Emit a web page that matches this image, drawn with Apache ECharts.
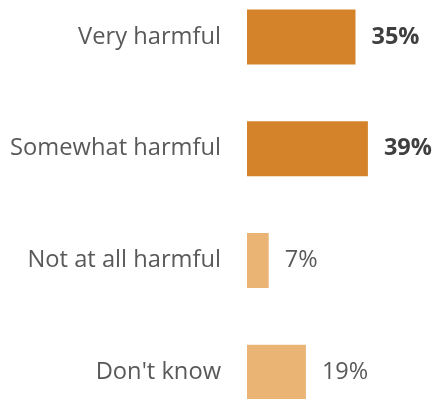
<!DOCTYPE html>
<html>
<head>
<meta charset="utf-8">
<script src="https://cdn.jsdelivr.net/npm/echarts@6/dist/echarts.min.js"></script>
<style>
  html, body { margin: 0; padding: 0; background: #ffffff; overflow: hidden; width: 436px; height: 399px; }
  #chart { position: absolute; left: 0; top: -19px; width: 436px; height: 447px; }
</style>
</head>
<body>
<div id="chart"></div>
<script>
// Survey responses: how harmful
const categories = ['Very harmful', 'Somewhat harmful', 'Not at all harmful', "Don't know"];
const values = [35, 39, 7, 19];
const emphasized = [true, true, false, false];

const darkOrange = '#D4832A';
const lightOrange = '#EAB474';

const chart = echarts.init(document.getElementById('chart'), null, { renderer: 'canvas' });

const barData = values.map((v, i) => ({
  value: v,
  itemStyle: { color: emphasized[i] ? darkOrange : lightOrange },
  label: {
    fontWeight: emphasized[i] ? 'bold' : 'normal',
    color: emphasized[i] ? '#3F3F3F' : '#595959'
  }
}));

chart.setOption({
  animation: false,
  grid: { left: 247, right: 3, top: 0, bottom: 0, containLabel: false },
  xAxis: {
    type: 'value',
    min: 0,
    max: 60,
    show: false
  },
  yAxis: {
    type: 'category',
    data: categories,
    inverse: true,
    axisLine: { show: false },
    axisTick: { show: false },
    splitLine: { show: false },
    axisLabel: {
      margin: 26,
      fontFamily: 'Open Sans',
      fontSize: 23.7,
      color: '#595959'
    }
  },
  series: [{
    type: 'bar',
    data: barData,
    barWidth: 55,
    label: {
      show: true,
      position: 'right',
      distance: 16,
      fontFamily: 'Open Sans',
      fontSize: 23.5,
      formatter: '{c}%'
    }
  }]
});
</script>
</body>
</html>
